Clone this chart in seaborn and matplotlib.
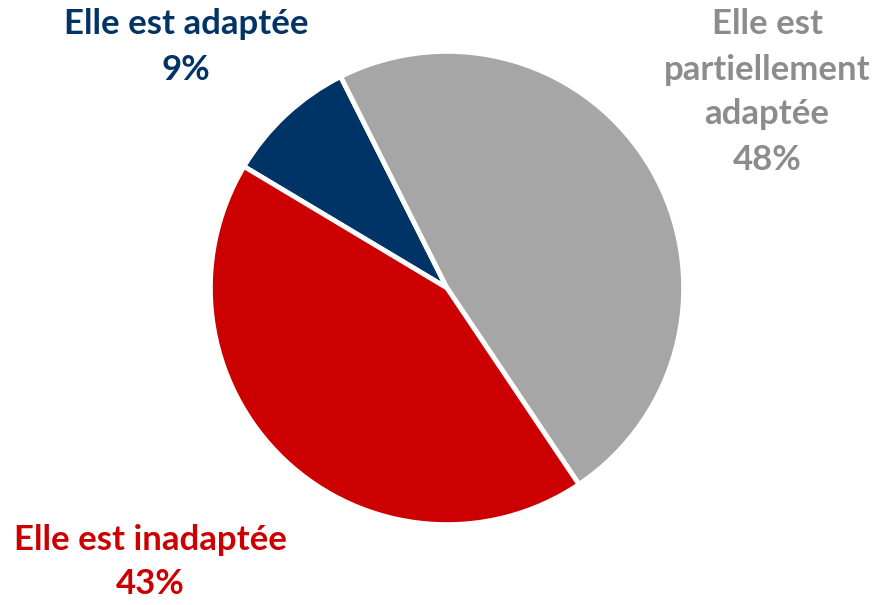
import matplotlib
matplotlib.use('Agg')
import matplotlib.pyplot as plt
import seaborn as sns

# Données du graphique
categories = ['Elle est adaptée', 'Elle est\npartiellement\nadaptée', 'Elle est inadaptée']
values = [9, 48, 43]
slice_colors = ['#003366', '#A6A6A6', '#CC0000']
text_colors = ['#003366', '#8C8C8C', '#CC0000']

sns.set_style('white')
plt.rcParams['font.family'] = ['Lato', 'DejaVu Sans']

fig = plt.figure(figsize=(8.8, 6.05), dpi=100)
W, H = 880, 605
cx, cy, r = 447, 317, 239
ax = fig.add_axes([(cx - r) / W, (cy - r) / H, 2 * r / W, 2 * r / H])

ax.pie(values, colors=slice_colors, startangle=149.1, counterclock=False,
       radius=1, wedgeprops={'edgecolor': 'white', 'linewidth': 3.5})
ax.set_xlim(-1.01, 1.01)
ax.set_ylim(-1.01, 1.01)
ax.set_aspect('equal')
ax.axis('off')

# Étiquettes (position en pixels de la figure)
label_pos = [(186, 47), (767, 92), (150, 562)]
for cat, val, col, (px, py) in zip(categories, values, text_colors, label_pos):
    fig.text(px / W, 1 - py / H, f'{cat}\n{val}%', color=col, fontsize=25,
             fontweight='bold', ha='center', va='center', multialignment='center',
             linespacing=1.5)

fig.savefig('out.png', dpi=100)
